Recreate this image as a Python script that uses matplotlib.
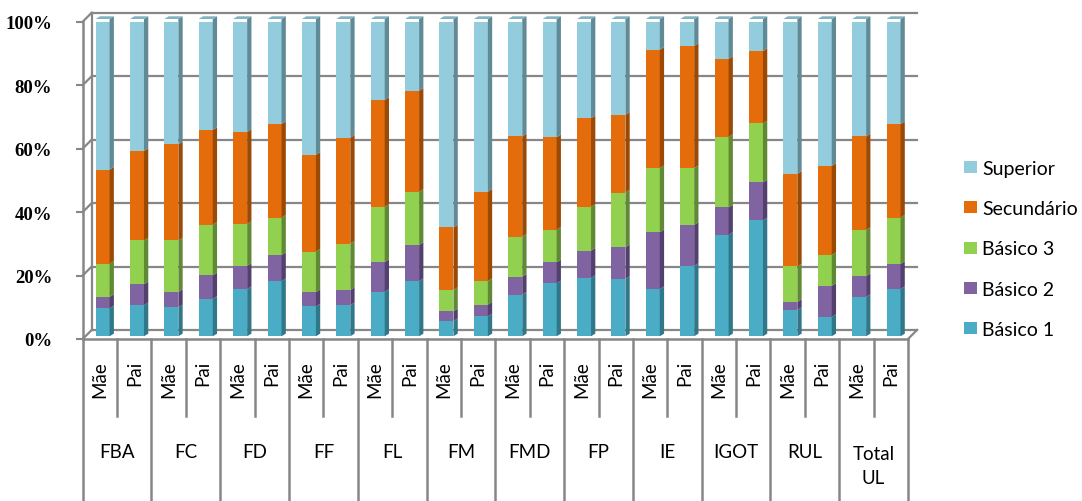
import matplotlib
matplotlib.use('Agg')
import matplotlib.pyplot as plt
from matplotlib.patches import Polygon, Patch
from matplotlib.transforms import blended_transform_factory
import numpy as np

# ---------------- data (percent shares) ----------------
groups = ['FBA', 'FC', 'FD', 'FF', 'FL', 'FM', 'FMD', 'FP', 'IE', 'IGOT', 'RUL', 'Total\nUL']
parents = ['Mãe', 'Pai']
series = ['Básico 1', 'Básico 2', 'Básico 3', 'Secundário', 'Superior']

basico1 = [8.8, 9.8, 9.1, 11.8, 14.9, 17.4, 9.4, 9.8, 14.0, 17.4, 4.8, 6.3,
           13.1, 16.7, 18.4, 18.1, 14.9, 22.2, 32.0, 36.5, 8.3, 6.1, 12.4, 14.9]
basico2 = [3.6, 6.6, 4.9, 7.4, 7.3, 8.2, 4.5, 4.8, 9.4, 11.4, 3.1, 3.7,
           5.7, 6.6, 8.6, 10.0, 17.9, 12.9, 8.6, 12.0, 2.5, 9.8, 6.6, 7.9]
basico3 = [10.5, 13.8, 16.2, 16.0, 13.2, 11.8, 12.8, 14.6, 17.4, 16.7, 6.7, 7.4,
           12.6, 10.3, 13.8, 17.2, 20.2, 17.9, 22.2, 18.6, 11.2, 9.7, 14.5, 14.6]
secundario = [29.6, 28.2, 30.3, 29.8, 29.0, 29.5, 30.5, 33.4, 33.7, 31.9, 19.7, 28.2,
              31.6, 29.1, 27.9, 24.5, 37.3, 38.5, 24.6, 22.8, 29.2, 28.1, 29.5, 29.5]
superior = [47.5, 41.6, 39.5, 35.0, 35.6, 33.1, 42.8, 37.4, 25.5, 22.6, 65.7, 54.4,
            37.0, 37.3, 31.3, 30.2, 9.7, 8.5, 12.6, 10.1, 48.8, 46.3, 37.0, 33.1]

yticks = [0, 20, 40, 60, 80, 100]
ytick_labels = ['0%', '20%', '40%', '60%', '80%', '100%']

# ---------------- style ----------------
front_cols = ['#4BACC6', '#8064A2', '#92D050', '#E46C0A', '#93CDDD']
side_cols = ['#31778A', '#54406E', '#5F8A33', '#9B4A06', '#5F8A96']
top_col = '#7FB3C2'
grey = '#878787'

W, H = 1082, 502
fig = plt.figure(figsize=(W / 100, H / 100), dpi=100)
ax_l, ax_r, ax_t, ax_b = 82.7, 908.0, 22.7, 340.0
ax = fig.add_axes([ax_l / W, 1 - ax_b / H, (ax_r - ax_l) / W, (ax_b - ax_t) / H])

n = len(groups) * len(parents)
ax.set_xlim(-0.5, n - 0.5)
ax.set_ylim(0, 100)
ppx = (ax_r - ax_l) / n          # pixels per x unit
ppy = (ax_b - ax_t) / 100.0      # pixels per percent

for sp in ax.spines.values():
    sp.set_visible(False)
ax.set_xticks([])
ax.set_yticks(yticks)
ax.set_yticklabels(ytick_labels, family='Liberation Serif', weight='bold', fontsize=13.5)
ax.tick_params(axis='y', length=5, width=1.5, color=grey, pad=17)
ax.patch.set_visible(False)

# back wall / floor (3D depth offset)
ox, oy = 9 / ppx, 9 / ppy
for v in yticks:
    ax.plot([-0.5 + ox, n - 0.5 + ox], [v + oy, v + oy], color=grey, lw=1.6, zorder=1, clip_on=False)
    ax.plot([-0.5, -0.5 + ox], [v, v + oy], color=grey, lw=1.6, zorder=1, clip_on=False)
ax.plot([-0.5 + ox, -0.5 + ox], [oy, 100 + oy], color=grey, lw=1.6, zorder=1, clip_on=False)
ax.plot([-0.5, -0.5], [0, 100], color=grey, lw=1.8, zorder=2, clip_on=False)
ax.plot([-0.5, n - 0.5], [0, 0], color=grey, lw=1.8, zorder=2, clip_on=False)
ax.plot([n - 0.5, n - 0.5 + ox], [0, oy], color=grey, lw=1.6, zorder=2, clip_on=False)

# bars
x = np.arange(n)
fx, fy = 2.7 / ppx, 2.7 / ppy
w = 14 / ppx
dx, dy = 4.3 / ppx, 2.7 / ppy
data = [basico1, basico2, basico3, secundario, superior]
bottom = np.zeros(n)
for s, vals in enumerate(data):
    vals = np.array(vals, dtype=float)
    ax.bar(x + fx, vals, width=w, bottom=bottom + fy, color=front_cols[s],
           edgecolor='none', zorder=3, label=series[s])
    for i in range(n):
        xr = x[i] + fx + w / 2
        b = bottom[i] + fy
        t = b + vals[i]
        ax.add_patch(Polygon([(xr, b), (xr, t), (xr + dx, t + dy), (xr + dx, b + dy)],
                             closed=True, facecolor=side_cols[s], edgecolor='none', zorder=3,
                             clip_on=False))
        if s == len(data) - 1:
            xl = x[i] + fx - w / 2
            ax.add_patch(Polygon([(xl, t), (xr, t), (xr + dx, t + dy), (xl + dx, t + dy)],
                                 closed=True, facecolor=top_col, edgecolor='none', zorder=3,
                                 clip_on=False))
    bottom += vals

# category table below
tr = blended_transform_factory(ax.transData, fig.transFigure)
for k in range(n + 1):
    xb = k - 0.5
    y_end = 502 if k % 2 == 0 else 417
    ax.plot([xb, xb], [1 - 340 / H, 1 - y_end / H], color=grey, lw=1.8,
            transform=tr, clip_on=False, zorder=2)

for g, gname in enumerate(groups):
    for p, pname in enumerate(parents):
        i = g * 2 + p
        ax.text(i, 1 - 361 / H, pname, rotation=90, ha='center', va='top',
                fontsize=13.5, family='Lato', transform=tr)
    yc = 453 if '\n' not in gname else 466.5
    ax.text(g * 2 + 0.5, 1 - yc / H, gname, ha='center', va='center', fontsize=13.5,
            family='Lato', transform=tr, linespacing=1.45)

# legend
handles = [Patch(facecolor=front_cols[s], edgecolor='none') for s in range(len(series))][::-1]
labels = series[::-1]
fs = 14
fs_px = fs * 100 / 72
ax.legend(handles, labels, loc='center left', bbox_to_anchor=(964 / W, 1 - 250 / H),
          bbox_transform=fig.transFigure, frameon=False, borderpad=0, borderaxespad=0,
          handlelength=13 / fs_px, handleheight=11 / fs_px, handletextpad=5 / fs_px,
          labelspacing=1.2, prop={'family': 'Lato', 'size': fs})

fig.savefig('out.png', dpi=100)
